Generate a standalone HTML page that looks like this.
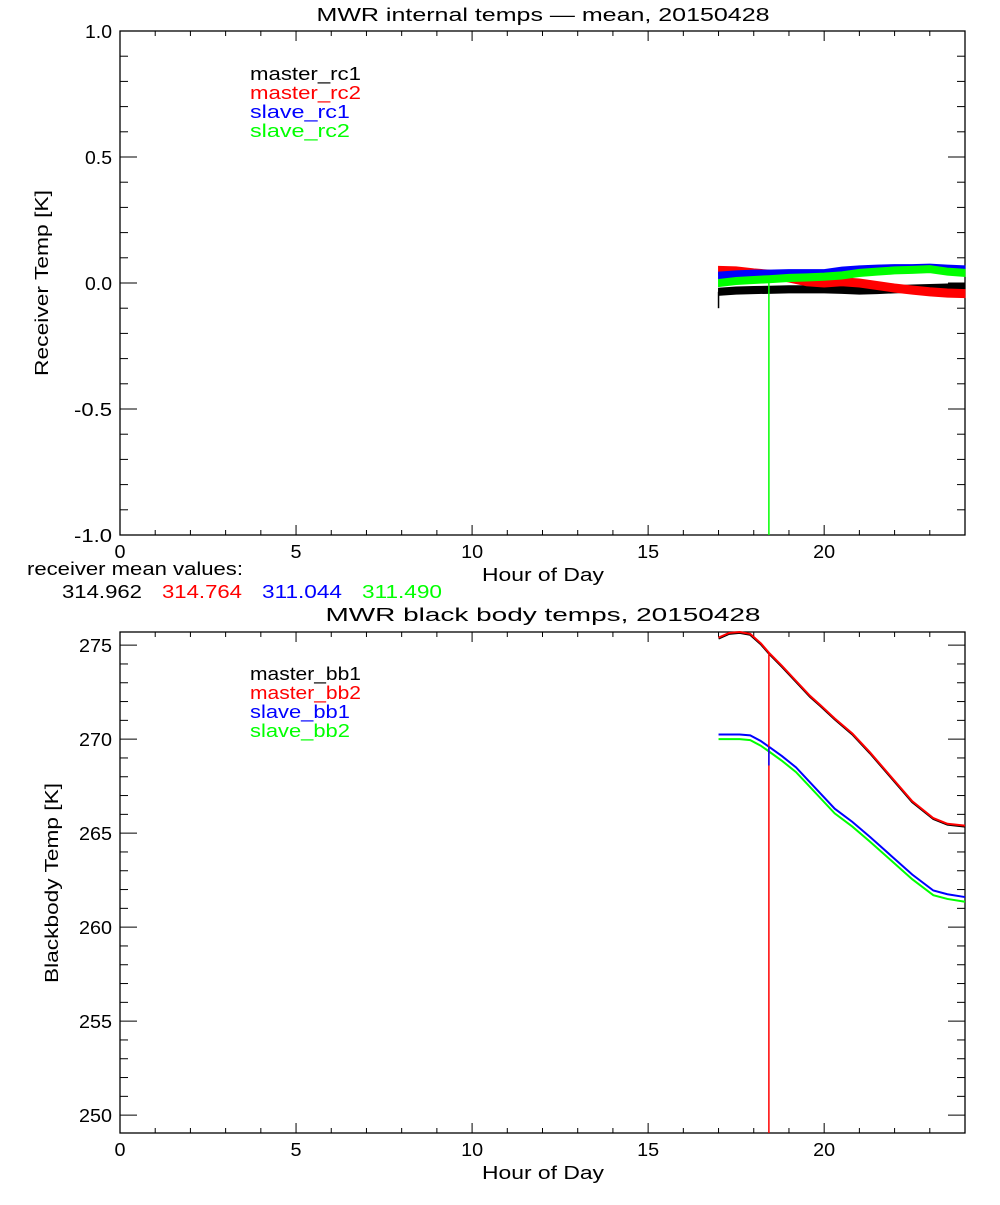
<!DOCTYPE html>
<html><head><meta charset="utf-8"><style>
body{margin:0;background:#fff}
svg text{font-family:"Liberation Sans",sans-serif;font-size:18px}
</style></head><body>
<svg id="c" width="1000" height="1200" xmlns="http://www.w3.org/2000/svg"></svg>
<script>
// ---------- data ----------
const hours = [17, 17.5, 18, 18.43, 19, 19.5, 20, 20.5, 21, 21.5, 22, 22.5, 23, 23.5, 24];
const rcNames = ["master_rc1","master_rc2","slave_rc1","slave_rc2"];
const rcColors = ["#000","#f00","#00f","#0f0"];
const rc1 = [-0.035,-0.03,-0.028,-0.027,-0.025,-0.025,-0.025,-0.027,-0.03,-0.028,-0.025,-0.022,-0.02,-0.018,-0.015];
const rc2 = [0.05,0.048,0.04,0.035,0.02,0.005,0.0,0.005,0.0,-0.01,-0.02,-0.028,-0.035,-0.04,-0.042];
const srv1 = [0.03,0.035,0.038,0.038,0.04,0.04,0.04,0.05,0.055,0.058,0.06,0.06,0.062,0.058,0.055];
const srv2 = [0.0,0.008,0.012,0.015,0.02,0.022,0.025,0.03,0.04,0.045,0.05,0.052,0.055,0.045,0.04];
const rcSeries = [rc1, rc2, srv1, srv2];
const rcBandHalf = [0.014, 0.016, 0.013, 0.014];
const meanValues = ["314.962","314.764","311.044","311.490"];
const bbHours = [17, 17.3, 17.6, 17.9, 18.2, 18.43, 18.8, 19.2, 19.6, 19.9, 20.3, 20.8, 21.3, 21.9, 22.5, 23.1, 23.5, 24];
const mbb = [275.4, 275.65, 275.7, 275.6, 275.1, 274.6, 273.9, 273.1, 272.3, 271.8, 271.1, 270.3, 269.3, 268.0, 266.7, 265.8, 265.5, 265.4];
const sbb1 = [270.25, 270.25, 270.25, 270.2, 269.9, 269.6, 269.1, 268.5, 267.7, 267.1, 266.3, 265.6, 264.8, 263.8, 262.8, 261.95, 261.75, 261.6];
const sbb2 = [270.0, 270.0, 270.0, 269.95, 269.65, 269.35, 268.85, 268.25, 267.45, 266.85, 266.05, 265.35, 264.55, 263.55, 262.55, 261.7, 261.5, 261.35];
const bbNames = ["master_bb1","master_bb2","slave_bb1","slave_bb2"];
const spikeHour = 18.43;
const xTicks = [0,5,10,15,20];
const rcYTicks = [-1.0,-0.5,0.0,0.5,1.0];
const bbYTicks = [250,255,260,265,270,275];

// ---------- drawing ----------
const svg = document.getElementById('c');
const NS = "http://www.w3.org/2000/svg";
function mk(tag, attrs, parent){const e=document.createElementNS(NS,tag);for(const k in attrs)e.setAttribute(k,attrs[k]);(parent||svg).appendChild(e);return e;}
const X0=120,X1=965;
const xs = h => X0 + h/24*(X1-X0);
const P1={top:31,bot:535,ymin:-1,ymax:1};
const P2={top:632,bot:1133,ymin:249.05,ymax:275.7};
function ys(p,v){return p.bot-(v-p.ymin)/(p.ymax-p.ymin)*(p.bot-p.top);}
const CW=11; // approx char width in reference font

function axes(p, yTicks, yMinorStep, fmt, name){
  const g=mk('g',{});
  
  
  mk('rect',{x:X0,y:p.top,width:X1-X0,height:p.bot-p.top,fill:'none',stroke:'#000','stroke-width':1.3},g);
  for(let h=0;h<=24;h++){
    const maj=h%5===0, L=maj?10:5, x=xs(h);
    mk('line',{x1:x,x2:x,y1:p.bot,y2:p.bot-L,stroke:'#000'},g);
    mk('line',{x1:x,x2:x,y1:p.top,y2:p.top+L,stroke:'#000'},g);
  }
  xTicks.forEach(t=>{const s=String(t);const tx=mk('text',{x:xs(t),y:p.bot+23,'text-anchor':'middle',textLength:s.length*CW,lengthAdjust:'spacingAndGlyphs'},g);tx.textContent=s;
    
    });
  for(let v=Math.ceil(p.ymin/yMinorStep)*yMinorStep; v<=p.ymax+1e-9; v+=yMinorStep){
    const y=ys(p,v), maj=yTicks.some(t=>Math.abs(t-v)<1e-6), L=maj?17:8;
    mk('line',{x1:X0,x2:X0+L,y1:y,y2:y,stroke:'#000'},g);
    mk('line',{x1:X1,x2:X1-L,y1:y,y2:y,stroke:'#000'},g);
  }
  yTicks.forEach(t=>{if(t<p.ymin||t>p.ymax)return;const s=fmt(t);const tx=mk('text',{x:112,y:ys(p,t)+7,'text-anchor':'end',textLength:s.length*CW-(s.includes('.')?6:0),lengthAdjust:'spacingAndGlyphs'},g);tx.textContent=s;
    
    });
  const xl=mk('text',{x:543,y:p.bot+46,'text-anchor':'middle',textLength:122,lengthAdjust:'spacingAndGlyphs'},g);xl.textContent='Hour of Day';
  
  
}
function title(txt,y,w,name){const t=mk('text',{x:543,y:y,'text-anchor':'middle','font-size':'20',textLength:w,lengthAdjust:'spacingAndGlyphs'});t.textContent=txt;
  
  }
function ylabel(txt,x,y,w){const t=mk('text',{x:x,y:y,'text-anchor':'middle',textLength:w,lengthAdjust:'spacingAndGlyphs',transform:`rotate(-90 ${x} ${y})`});t.textContent=txt;
  
  }
function legend(names,x,y0,name){names.forEach((n,i)=>{const t=mk('text',{x:x,y:y0+i*19,fill:rcColors[i],textLength:n.length*11.1,lengthAdjust:'spacingAndGlyphs'});t.textContent=n;
  
  });}

// top plot
title('MWR internal temps \u2014 mean, 20150428',21,453,'top-title');
axes(P1,rcYTicks,0.1,v=>v.toFixed(1),'receiver');
ylabel('Receiver Temp [K]',48,283,186);
legend(rcNames,250,80,'receiver-legend');
rcSeries.forEach((s,i)=>{
  const hw=rcBandHalf[i];
  let up=hours.map((h,j)=>xs(h)+','+ys(P1,s[j]+hw));
  let dn=hours.map((h,j)=>xs(h)+','+ys(P1,s[j]-hw)).reverse();
  const b=mk('polygon',{points:up.concat(dn).join(' '),fill:rcColors[i],stroke:rcColors[i],'stroke-width':1});
  
  
});
const st=mk('line',{x1:xs(hours[0]),x2:xs(hours[0]),y1:ys(P1,rc1[0]),y2:ys(P1,-0.1),stroke:'#000','stroke-width':1.5});


const sp1=mk('line',{x1:xs(spikeHour),x2:xs(spikeHour),y1:ys(P1,srv2[3]),y2:P1.bot,stroke:'#0f0','stroke-width':1.5});



// mean values
const mt=mk('text',{x:27,y:575,textLength:216,lengthAdjust:'spacingAndGlyphs'});mt.textContent='receiver mean values:';


meanValues.forEach((v,i)=>{const t=mk('text',{x:62+i*100,y:598,fill:rcColors[i],textLength:80,lengthAdjust:'spacingAndGlyphs'});t.textContent=v;
  
  });

// bottom plot
title('MWR black body temps, 20150428',621,435,'bottom-title');
axes(P2,bbYTicks,1,v=>v.toFixed(0),'blackbody');
ylabel('Blackbody Temp [K]',58,883,200);
legend(bbNames,250,680,'blackbody-legend');
const bbSeries=[mbb,mbb,sbb1,sbb2];
bbSeries.forEach((s,i)=>{
  const pts=bbHours.map((h,j)=>xs(h)+','+ys(P2,s[j]+(i===0?-0.05:0))).join(' ');
  const l=mk('polyline',{points:pts,fill:'none',stroke:rcColors[i],'stroke-width':2});
  
  
});
const sp2=mk('line',{x1:xs(spikeHour),x2:xs(spikeHour),y1:ys(P2,mbb[5]),y2:P2.bot,stroke:'#f00','stroke-width':1.5});


const sp3=mk('line',{x1:xs(spikeHour),x2:xs(spikeHour),y1:ys(P2,sbb1[5]),y2:ys(P2,sbb1[5]-1),stroke:'#00f','stroke-width':1.5});


</script>
</body></html>
